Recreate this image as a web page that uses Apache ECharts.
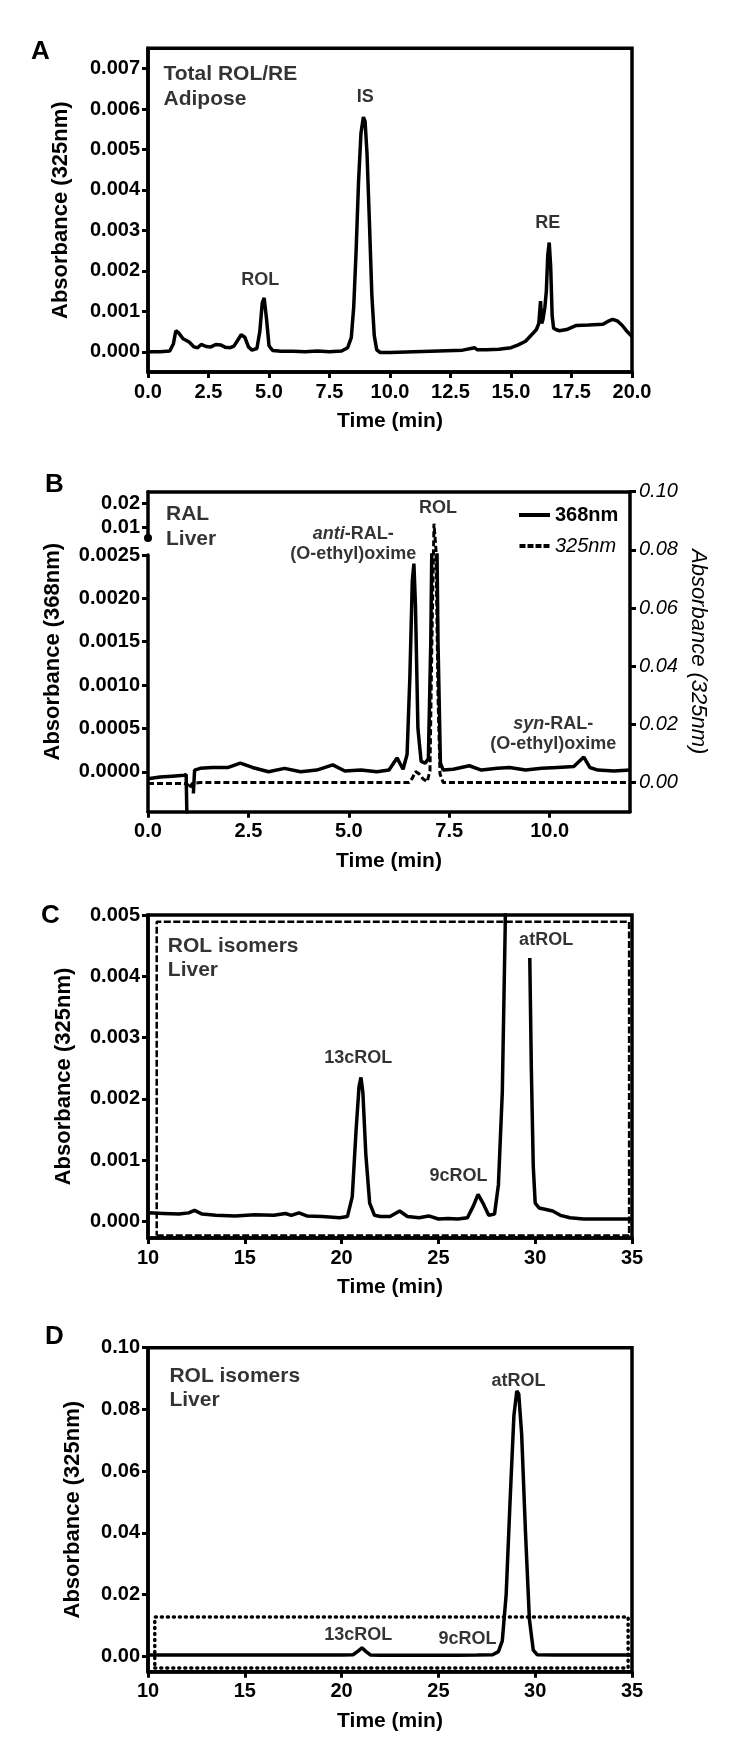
<!DOCTYPE html>
<html><head><meta charset="utf-8">
<script src="https://cdn.jsdelivr.net/npm/echarts@6.0.0/dist/echarts.min.js"></script>
<style>html,body{margin:0;padding:0;background:#fff}#c{width:750px;height:1750px}</style>
</head><body><div id="c"></div>
<script>
// ---------- Panel A: Total ROL/RE, adipose (325 nm) ----------
const aTime = [0,0.5,0.9,1.05,1.15,1.25,1.45,1.7,1.9,2.05,2.2,2.4,2.6,2.8,3.0,3.2,3.4,3.55,3.7,3.85,4.0,4.15,4.3,4.5,4.62,4.72,4.8,4.9,5.0,5.15,5.5,6.0,6.5,7.0,7.5,8.0,8.25,8.4,8.5,8.6,8.7,8.8,8.9,8.97,9.05,9.15,9.25,9.35,9.45,9.6,10,11,12,13,13.5,13.6,14,14.5,15,15.3,15.6,15.9,16.05,16.15,16.22,16.27,16.32,16.4,16.46,16.52,16.58,16.64,16.7,16.76,16.85,17.0,17.3,17.7,18.2,18.8,19.0,19.2,19.4,19.6,19.8,20.0];
const aAbs  = [0,0,0.00002,0.0002,0.00052,0.00048,0.00032,0.00024,0.00012,0.0001,0.00018,0.00013,0.00012,0.00018,0.00017,0.00011,0.0001,0.00014,0.00028,0.00042,0.00036,0.00012,0.00004,0.00008,0.0005,0.0012,0.00133,0.0008,0.00015,0.00003,0.00001,0.00001,0,0.00002,0,0.00002,0.0001,0.00035,0.0011,0.0025,0.0042,0.0054,0.0058,0.0057,0.0049,0.0032,0.0014,0.0004,0.00005,-0.00002,-0.00002,0,0.00002,0.00004,0.0001,0.00005,0.00005,0.00006,0.0001,0.00017,0.00026,0.00045,0.00055,0.0007,0.00125,0.0007,0.0008,0.0011,0.0015,0.0024,0.0027,0.0021,0.0009,0.00058,0.00055,0.00052,0.00055,0.00065,0.00066,0.00068,0.00075,0.0008,0.00076,0.00065,0.0005,0.00038];
const aXTicks = [0,2.5,5,7.5,10,12.5,15,17.5,20];
const aYTicks = [0,0.001,0.002,0.003,0.004,0.005,0.006,0.007];

// ---------- Panel B: RAL, liver (368 nm left, 325 nm right) ----------
const bTime368 = [0,0.3,0.6,0.9,0.95,0.98,1.05,1.13,1.16,1.3,1.6,2.0,2.3,2.6,3.0,3.4,3.8,4.2,4.6,4.9,5.3,5.7,6.0,6.2,6.35,6.45,6.52,6.58,6.62,6.66,6.72,6.8,6.9,6.98,7.04,7.1,7.16,7.22,7.28,7.35,7.6,8.0,8.3,8.7,9.0,9.4,9.8,10.2,10.6,10.85,11.0,11.2,11.6,12.0];
const bAbs368  = [-0.00008,-0.00006,-0.00005,-0.00004,-0.00003,-0.0008,null,-0.00025,0.00002,0.00004,0.00005,0.00005,0.0001,0.00005,0,0.00004,0,0.00002,0.00008,0.00001,0.00002,0,0.00002,0.00016,0.00003,0.0002,0.0011,0.0022,0.0024,0.0019,0.0005,0.00012,0.0001,0.00015,0.0015,0.004,0.004,0.0015,0.0001,0.00002,0.00003,0.00007,0.00002,0.00004,0.00005,0.00002,0.00004,0.00005,0.00006,0.00017,0.00005,0.00002,0.00001,0.00002];
const bTime325 = [0,0.9,1.0,1.04,1.1,1.3,2,3,4,5,6,6.5,6.58,6.66,6.75,6.85,6.95,7.02,7.07,7.12,7.17,7.22,7.27,7.35,8,9,10,11,12];
const bAbs325  = [-0.0003,-0.0003,-0.0008,-0.002,-0.0003,0,0,0,0,0,0,0,0.0015,0.0038,0.003,0.0012,0.0003,0.004,0.05,0.089,0.08,0.03,0.003,0,0,0,0,0,0];
const bXTicks = [0,2.5,5,7.5,10];
const bYTicksLow = [0,0.0005,0.001,0.0015,0.002,0.0025];
const bYTicksHigh = [0.01,0.02];
const bYTicksRight = [0,0.02,0.04,0.06,0.08,0.10];
const bLegend = ['368nm','325nm'];

// ---------- Panel C: ROL isomers, liver (zoomed) ----------
const cTime = [10,10.8,11.6,12.1,12.4,12.8,13.5,14.5,15.5,16.5,17.1,17.4,17.8,18.2,19,19.9,20.3,20.55,20.75,20.9,21.0,21.1,21.25,21.45,21.7,22.0,22.5,23.0,23.4,24.0,24.5,25.0,25.5,26.0,26.5,26.8,27.05,27.3,27.6,27.9,28.1,28.3,28.45,28.6,29.0,29.4,29.6,29.65,29.72,29.8,29.9,30.0,30.2,30.5,30.9,31.3,31.8,32.5,33.5,35];
const cAbs  = [0.00014,0.00013,0.00012,0.00014,0.00018,0.00012,0.0001,0.00009,0.00011,0.0001,0.00013,0.0001,0.00014,0.00009,0.00008,0.00006,0.00008,0.0004,0.0015,0.0022,0.00235,0.0021,0.0011,0.0003,0.0001,0.00008,0.00008,0.00017,0.00008,0.00006,0.00009,0.00004,0.00005,0.00004,0.00006,0.00025,0.00044,0.0003,0.0001,0.00012,0.0006,0.0021,0.0048,0.009,0.06,0.03,0.008,null,0.0043,0.0025,0.0009,0.0003,0.00022,0.0002,0.00017,0.0001,0.00006,0.00004,0.00004,0.00004];
const cBoxTime = [10.45,34.85];
const cBoxAbs  = [-0.00023,0.00489];
const cXTicks = [10,15,20,25,30,35];
const cYTicks = [0,0.001,0.002,0.003,0.004,0.005];

// ---------- Panel D: ROL isomers, liver (full scale) ----------
const dTime = [10,12,14,16,18,19.2,20,20.6,20.85,21.05,21.25,21.5,22,23,24,25,26,27,27.8,28.1,28.3,28.5,28.7,28.9,29.05,29.15,29.3,29.5,29.7,29.9,30.1,31,32,33,35];
const dAbs  = [0.0004,0.0004,0.0004,0.0004,0.0004,0.0004,0.0004,0.0005,0.0017,0.0027,0.0016,0.0004,0.0003,0.0003,0.0003,0.0003,0.0003,0.0004,0.0005,0.0015,0.005,0.02,0.05,0.078,0.086,0.085,0.072,0.04,0.012,0.002,0.0005,0.0004,0.0004,0.0004,0.0004];
const dBoxTime = [10.35,34.8];
const dBoxAbs  = [-0.0038,0.0127];
const dXTicks = [10,15,20,25,30,35];
const dYTicks = [0,0.02,0.04,0.06,0.08,0.10];

// ---------- helpers ----------
const F = "'Liberation Sans', Arial, Helvetica, sans-serif";
const K = '#000';
const LW = 3.5;
function pts(t, v) { return t.map((x, i) => [x, v[i] === null ? '-' : v[i]]); }
function boxPts(tx, ty) { return [[tx[0],ty[0]],[tx[1],ty[0]],[tx[1],ty[1]],[tx[0],ty[1]],[tx[0],ty[0]]]; }
function aLine(extra) { return Object.assign({show:true, onZero:false, lineStyle:{color:K, width:LW}}, extra || {}); }
function aTick(vals) { const o = {show:true, inside:false, length:6, lineStyle:{color:K, width:3}}; if (vals) o.customValues = vals; return o; }
function aLabel(dec, vals, extra) {
  const o = Object.assign({show:true, color:K, fontFamily:F, fontWeight:'bold', fontSize:20, margin:8,
    formatter: v => Number(v).toFixed(dec)}, extra || {});
  if (vals) o.customValues = vals; return o;
}
function nameStyle(extra) { return Object.assign({fontFamily:F, fontWeight:'bold', fontSize:22, color:K}, extra || {}); }
const hidden = {show:false};
function xMain(grid, min, max, ticks, dec) {
  return {type:'value', gridIndex:grid, min:min, max:max, splitLine:hidden, axisLine:aLine(), axisTick:aTick(ticks),
    axisLabel:aLabel(dec, ticks, {margin:10}), name:'Time (min)', nameLocation:'middle', nameGap:39,
    nameTextStyle:nameStyle({fontSize:21}), nameMoveOverlap:false};
}
function xHidden(grid, min, max) { return {type:'value', gridIndex:grid, min:min, max:max, show:false, splitLine:hidden}; }
function yMain(grid, min, max, ticks, dec, name, gap, extra) {
  return Object.assign({type:'value', gridIndex:grid, min:min, max:max, position:'left', splitLine:hidden,
    axisLine:aLine(), axisTick:aTick(ticks), axisLabel:aLabel(dec, ticks), name:name, nameLocation:'middle',
    nameGap:gap, nameTextStyle:nameStyle(), nameMoveOverlap:false}, extra || {});
}
function trace(xi, yi, t, v, name) {
  return {type:'line', name:name, xAxisIndex:xi, yAxisIndex:yi, data:pts(t, v), symbol:'none', showSymbol:false,
    connectNulls:false, clip:true, silent:true, lineStyle:{color:K, width:LW}, itemStyle:{color:K}, z:3};
}
function frame(xi, yi, tx, ty, dash, width, cap) {
  return {type:'line', xAxisIndex:xi, yAxisIndex:yi, data:boxPts(tx, ty), symbol:'none', silent:true, clip:false,
    lineStyle:{color:K, width:width, type:dash, cap:cap || 'butt'}, z:2};
}
const RICH = {
  i:{fontFamily:F, fontWeight:'bold', fontStyle:'italic', fontSize:18, color:K, lineHeight:20},
  b:{fontFamily:F, fontWeight:'bold', fontSize:18, color:K, lineHeight:20}
};
function notes(xi, yi, items) {
  return {type:'scatter', xAxisIndex:xi, yAxisIndex:yi, silent:true, symbol:'circle', symbolSize:1, z:10,
    itemStyle:{color:'rgba(0,0,0,0)'},
    data: items.map(it => ({value: it.at, label:{show:true, formatter: it.text, position:[0,0],
      align: it.align || 'center', verticalAlign: it.va || 'middle', color:K, fontFamily:F, fontWeight:'bold',
      fontSize: it.size || 18, lineHeight: it.lh || 20, rich: RICH}}))};
}

const gridBox = {show:true, borderColor:K, borderWidth:LW, backgroundColor:'transparent', outerBoundsMode:'none', containLabel:false};
const gridOpen = {show:false, outerBoundsMode:'none', containLabel:false};

const option = {
  animation:false,
  backgroundColor:'#fff',
  textStyle:{fontFamily:F, color:K},
  grid:[
    Object.assign({left:148, top:48.3, width:484, height:323.7}, gridBox),   // 0 A
    Object.assign({left:148, top:555, width:482, height:256.7}, gridOpen),   // 1 B lower (368)
    Object.assign({left:148, top:491.7, width:482, height:46.3}, gridOpen),  // 2 B upper (368)
    Object.assign({left:148, top:491.7, width:482, height:320}, gridOpen),   // 3 B full (325)
    Object.assign({left:148, top:915, width:484, height:323}, gridBox),      // 4 C
    Object.assign({left:148, top:1347.7, width:484, height:324}, gridBox)    // 5 D
  ],
  xAxis:[
    xMain(0, 0, 20, aXTicks, 1),
    xHidden(1, 0, 12),
    xHidden(2, 0, 12),
    xMain(3, 0, 12, bXTicks, 1),
    {type:'value', gridIndex:3, min:0, max:12, position:'top', splitLine:hidden, axisLine:aLine(),
      axisTick:hidden, axisLabel:hidden},
    xMain(4, 10, 35, cXTicks, 0),
    xMain(5, 10, 35, dXTicks, 0)
  ],
  yAxis:[
    yMain(0, -0.0005, 0.0075, aYTicks, 3, 'Absorbance (325nm)', 76),
    yMain(1, -0.00046, 0.0025, bYTicksLow, 4, '', 0),
    yMain(2, 0.00554, 0.0248, bYTicksHigh, 2, '', 0,
      {axisLine:aLine({symbol:['circle','none'], symbolSize:[8,8]})}),
    {type:'value', gridIndex:3, min:-0.01, max:0.10, position:'right', splitLine:hidden,
      axisLine:aLine(), axisTick:aTick(bYTicksRight),
      axisLabel:aLabel(2, bYTicksRight, {fontWeight:'normal', fontStyle:'italic', margin:9}),
      name:'Absorbance (325nm)', nameLocation:'middle', nameGap:57, nameRotate:-90,
      nameTextStyle:nameStyle({fontWeight:'normal', fontStyle:'italic'}), nameMoveOverlap:false},
    {type:'value', gridIndex:3, min:-0.01, max:0.10, position:'left', splitLine:hidden,
      axisLine:hidden, axisTick:hidden, axisLabel:hidden,
      name:'Absorbance (368nm)', nameLocation:'middle', nameGap:84,
      nameTextStyle:nameStyle(), nameMoveOverlap:false},
    yMain(4, -0.00027, 0.005, cYTicks, 3, 'Absorbance (325nm)', 73),
    yMain(5, -0.005, 0.10, dYTicks, 2, 'Absorbance (325nm)', 64)
  ],
  legend:{
    data:[
      {name:bLegend[0], icon:'rect', textStyle:{fontWeight:'bold', fontStyle:'normal'}},
      {name:bLegend[1], icon:'path://M0,0h6v4h-6z M8,0h6v4h-6z M16,0h6v4h-6z M24,0h6v4h-6z',
        textStyle:{fontWeight:'normal', fontStyle:'italic'}}
    ],
    orient:'vertical', left:519, top:504, itemWidth:31, itemHeight:4, itemGap:9, selectedMode:false,
    textStyle:{fontFamily:F, fontSize:20, color:K, lineHeight:22}, padding:0
  },
  series:[
    trace(0, 0, aTime, aAbs, 'A'),
    trace(1, 1, bTime368, bAbs368, bLegend[0]),
    trace(2, 2, bTime368, bAbs368, bLegend[0]),
    Object.assign(trace(3, 3, bTime325, bAbs325, bLegend[1]), {lineStyle:{color:K, width:3, type:[6,3]}}),
    trace(5, 5, cTime, cAbs, 'C'),
    frame(5, 5, cBoxTime, cBoxAbs, [7,2.5], 2.5),
    trace(6, 6, dTime, dAbs, 'D'),
    frame(6, 6, dBoxTime, dBoxAbs, [1,5], 3.5, 'round'),
    notes(0, 0, [
      {at:[0.66, 0.00716], text:'Total ROL/RE\nAdipose', align:'left', va:'top', size:21, lh:25},
      {at:[9.0, 0.00629], text:'IS'},
      {at:[4.66, 0.00177], text:'ROL'},
      {at:[16.54, 0.00318], text:'RE'}
    ]),
    notes(3, 3, [
      {at:[0.46, 0.0965], text:'RAL\nLiver', align:'left', va:'top', size:21, lh:25},
      {at:[7.23, 0.0943], text:'ROL'},
      {at:[5.12, 0.0818], text:'{i|anti}{b|-RAL-}\n{b|(O-ethyl)oxime}'},
      {at:[10.1, 0.0165], text:'{i|syn}{b|-RAL-}\n{b|(O-ethyl)oxime}'}
    ]),
    notes(5, 5, [
      {at:[11.05, 0.00467], text:'ROL isomers\nLiver', align:'left', va:'top', size:21, lh:23.5},
      {at:[20.89, 0.00266], text:'13cROL'},
      {at:[26.06, 0.00074], text:'9cROL'},
      {at:[30.59, 0.00458], text:'atROL'}
    ]),
    notes(6, 6, [
      {at:[11.13, 0.0944], text:'ROL isomers\nLiver', align:'left', va:'top', size:21, lh:23.5},
      {at:[29.16, 0.089], text:'atROL'},
      {at:[20.89, 0.0066], text:'13cROL'},
      {at:[26.53, 0.0053], text:'9cROL'}
    ])
  ],
  graphic:[
    {type:'text', left:31, top:39, style:{text:'A', font:"bold 26px 'Liberation Sans', Arial", fill:K}},
    {type:'text', left:45, top:472, style:{text:'B', font:"bold 26px 'Liberation Sans', Arial", fill:K}},
    {type:'text', left:41, top:903, style:{text:'C', font:"bold 26px 'Liberation Sans', Arial", fill:K}},
    {type:'text', left:45, top:1324, style:{text:'D', font:"bold 26px 'Liberation Sans', Arial", fill:K}}
  ]
};
const chart = echarts.init(document.getElementById('c'), null, {renderer:'canvas', width:750, height:1750});
chart.setOption(option);
</script>
</body></html>
